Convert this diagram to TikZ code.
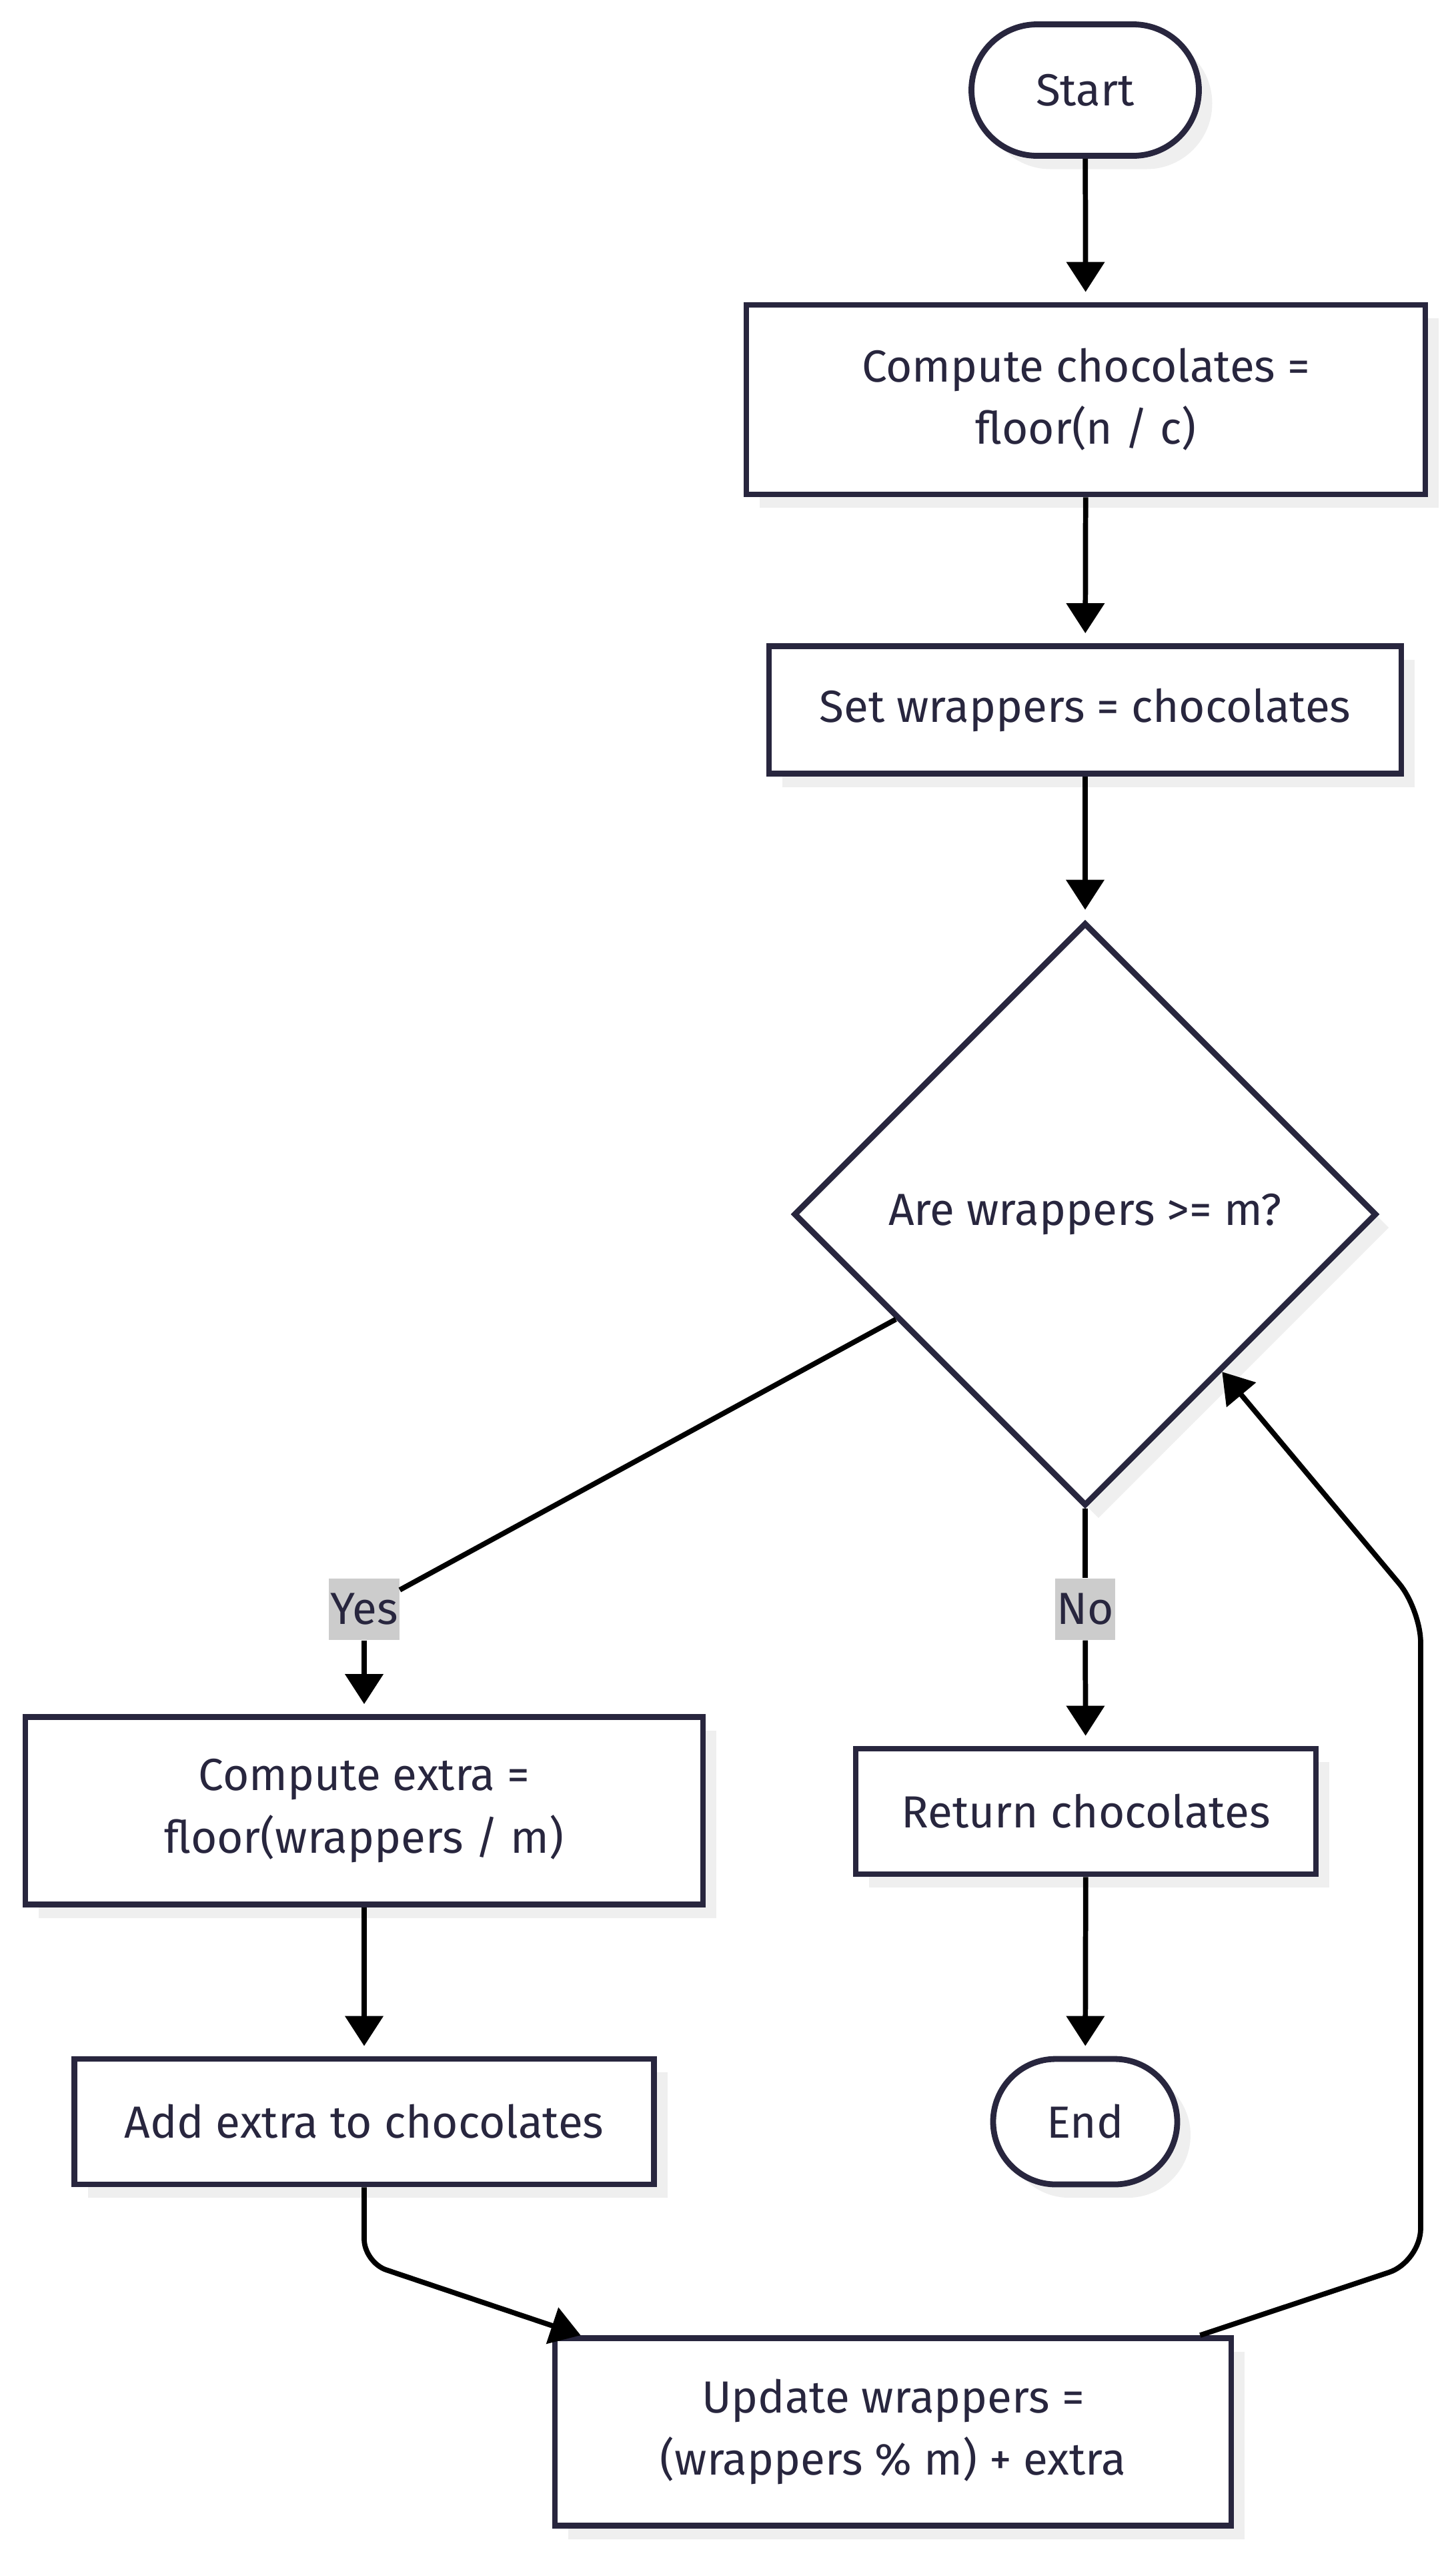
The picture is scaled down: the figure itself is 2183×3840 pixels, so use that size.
\documentclass[tikz,border=0pt]{standalone}
\usepackage{fontspec}
\setmainfont{Fira Sans}
\usepackage{tikz}
\usetikzlibrary{arrows.meta,shapes,shadows}
\definecolor{ink}{HTML}{28263E}
\definecolor{shade}{HTML}{EFEFEF}
\definecolor{lblgray}{HTML}{CCCCCC}
\newcommand{\nodelw}{2.5pt}
\newcommand{\edgelw}{2.2pt}
\newcommand{\txtsize}{\fontsize{19.2pt}{26.5pt}\selectfont}

\begin{document}
\begin{tikzpicture}[x=0.1mm, y=-0.1mm]
        \tikzset{
            base/.style = {draw=ink, line width=\nodelw, fill=white, text=ink, font=\txtsize, align=center,
                drop shadow={shadow xshift=2mm, shadow yshift=-2mm, fill=shade, opacity=1}},
            proc/.style = {base, rectangle, inner sep=0pt},
            term/.style = {base, rounded rectangle, inner sep=0pt},
            cond/.style = {base, diamond, aspect=1, inner sep=0pt},
            lbl/.style = {fill=lblgray, text=ink, font=\txtsize, inner xsep=0.2mm, minimum height=9.2mm},
            conn/.style = {draw=black, line width=\edgelw},
            flow/.style = {conn, -{Triangle[length=4.5mm,width=5.6mm]}, shorten >=1.5mm}
        }
        \useasboundingbox (0,0) rectangle (2183,3840);
        
        \node[term, minimum width=34.1mm, minimum height=19.7mm] (start) at (1627,135) {Start};
        \node[proc, minimum width=101.8mm, minimum height=28.4mm] (comp) at (1628,599) {Compute chocolates =\\floor(n / c)};
        \node[proc, minimum width=94.8mm, minimum height=19.1mm] (setw) at (1627,1064) {Set wrappers = chocolates};
        \node[cond, minimum width=87.4mm, minimum height=87.4mm] (dec) at (1627,1820) {Are wrappers >= m?};
        \node[proc, minimum width=101.6mm, minimum height=28.1mm] (extra) at (546,2714) {Compute extra =\\floor(wrappers / m)};
        \node[proc, minimum width=69mm, minimum height=18.8mm] (ret) at (1628,2715) {Return chocolates};
        \node[proc, minimum width=86.9mm, minimum height=18.8mm] (add) at (546,3180) {Add extra to chocolates};
        \node[term, minimum width=27.6mm, minimum height=18.8mm] (end) at (1627,3180) {End};
        \node[proc, minimum width=101.4mm, minimum height=28.1mm] (upd) at (1339,3645) {Update wrappers =\\(wrappers \% m) + extra};
        
        \node[lbl] (yes) at (546,2412) {Yes};
        \node[lbl] (no) at (1627,2412) {No};
        
        \coordinate (a1) at (546,3391);
        \coordinate (b1) at (2130,3390);
        \coordinate (b2) at (2130,2412);
        
        \draw[flow] (start) -- (comp);
        \draw[flow] (comp) -- (setw);
        \draw[flow] (setw) -- (dec);
        
        \draw[conn] (dec.209.4) -- (yes);
        \draw[flow] (yes) -- (extra);
        \draw[conn] (dec) -- (no);
        \draw[flow] (no) -- (ret);
        
        \draw[flow] (ret) -- (end);
        \draw[flow] (extra) -- (add);
        \draw[flow, rounded corners=3.5mm, shorten >=0pt] (add) -- (a1) -- ([xshift=4.3mm]upd.north west);
        \draw[flow, rounded corners=5mm, shorten >=0pt] ([xshift=-5.1mm]upd.north east) -- (b1) -- (b2) -- (dec.-49.5);
        
    \end{tikzpicture}
\end{document}
